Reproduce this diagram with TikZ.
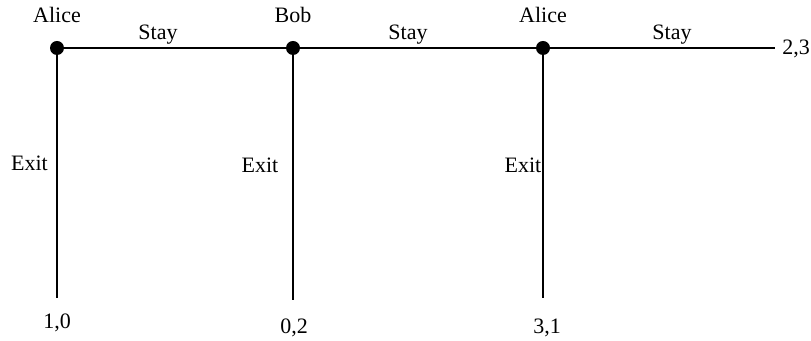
\documentclass[tikz,border=0pt]{standalone}
\usepackage{fontspec}
\setmainfont{Liberation Serif}
\begin{document}
\begin{tikzpicture}[x=0.75pt,y=-0.75pt,
  decision/.style={circle,fill=black,inner sep=0pt,minimum size=10.5pt},
  lbl/.style={font=\fontsize{16.5pt}{19pt}\selectfont,inner sep=0pt,anchor=base},
  branch/.style={line width=1pt}]
\useasboundingbox (0,0) rectangle (811,341);
% decision nodes
\node[decision] (a1) at (57,48) {};
\node[decision] (b) at (293,48) {};
\node[decision] (a2) at (543,48) {};
% terminal points
\coordinate (t1) at (57,298);
\coordinate (t2) at (293,300);
\coordinate (t3) at (543,298);
\coordinate (t4) at (775,48);
% edges
\draw[branch] (a1.center) -- (b.center);
\draw[branch] (b.center) -- (a2.center);
\draw[branch] (a2.center) -- (t4);
\draw[branch] (a1.center) -- (t1);
\draw[branch] (b.center) -- (t2);
\draw[branch] (a2.center) -- (t3);
% player labels
\node[lbl] (pa1) at (57,23) {Alice};
\node[lbl] (pb) at (293,23) {Bob};
\node[lbl] (pa2) at (543,23) {Alice};
% action labels
\node[lbl] (s1) at (158,40) {Stay};
\node[lbl] (s2) at (408,40) {Stay};
\node[lbl] (s3) at (672,40) {Stay};
\node[lbl] (e1) at (29.5,171) {Exit};
\node[lbl] (e2) at (260,173) {Exit};
\node[lbl] (e3) at (523,173) {Exit};
% payoffs
\node[lbl] (p1) at (57,329) {1,0};
\node[lbl] (p2) at (294,334) {0,2};
\node[lbl] (p3) at (547,334) {3,1};
\node[lbl,anchor=base west] (p4) at (782,55) {2,3};
\end{tikzpicture}
\end{document}
